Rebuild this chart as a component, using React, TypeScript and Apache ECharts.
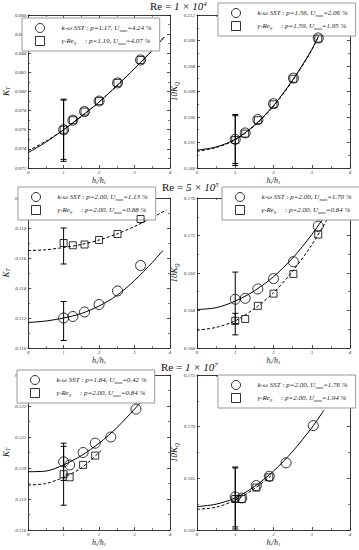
import React, { useEffect, useRef } from "react";
import * as echarts from "echarts";

const FONT = "Liberation Serif";

// refinement ratio positions h_i/h_1
const xRefTop = [1, 1.26, 1.59, 2, 2.52, 3.17];
const xRefBottom = [1, 1.17, 1.55, 1.89, 2.33, 3.04];
const xRefBottomGamma = [1, 1.17, 1.55, 1.89];

// Re labels
const reMantissa = ["1", "5", "1"];
const reExponent = ["4", "5", "7"];

// legend numbers
const kwP = ["1.17", "1.56", "2.00", "2.00", "1.84", "2.00"];
const kwU = ["4.24", "2.06", "1.13", "1.70", "0.42", "1.76"];
const grP = ["1.19", "1.59", "2.00", "2.00", "2.00", "2.00"];
const grU = ["4.07", "1.95", "0.88", "0.84", "0.84", "1.94"];

// panel 1: K_T, Re=1e4
const p1Kw = [0.076, 0.077, 0.0779, 0.079, 0.0809, 0.0833];
const p1Gr = [0.076, 0.077, 0.0779, 0.079, 0.0809, 0.0833];
const p1CurveX = [0, 0.5, 1, 1.5, 2, 2.5, 3, 3.5, 3.84];
const p1KwCurve = [0.0736, 0.0747, 0.076, 0.0774, 0.0789, 0.0806, 0.0824, 0.0843, 0.0857];
const p1GrCurve = [0.0738, 0.0748, 0.076, 0.0774, 0.0789, 0.0806, 0.0824, 0.0843, 0.0857];
const p1KwErr = [0.0727, 0.0792];
const p1GrErr = [0.0729, 0.0791];

// panel 2: 10K_Q, Re=1e4
const p2Kw = [0.1925, 0.1935, 0.1956, 0.1981, 0.2021, 0.2084];
const p2Gr = [0.1924, 0.1934, 0.1955, 0.198, 0.202, 0.2083];
const p2CurveX = [0, 0.5, 1, 1.5, 2, 2.5, 3, 3.44];
const p2KwCurve = [0.1908, 0.1913, 0.1925, 0.1947, 0.1978, 0.2018, 0.2066, 0.212];
const p2GrCurve = [0.1906, 0.1912, 0.1924, 0.1946, 0.1977, 0.2017, 0.2065, 0.212];
const p2KwErr = [0.1884, 0.1964];
const p2GrErr = [0.1887, 0.1962];

// panel 3: K_T, Re=5e5
const p3Kw = [0.112, 0.1121, 0.1124, 0.1129, 0.1138, 0.1155];
const p3Gr = [0.117, 0.11685, 0.1169, 0.1172, 0.1176, 0.1186];
const p3KwCurveX = [0, 0.5, 1, 1.5, 2, 2.5, 3, 3.5, 3.8];
const p3KwCurve = [0.1117, 0.1118, 0.112, 0.1123, 0.1128, 0.1135, 0.1145, 0.1157, 0.1165];
const p3GrCurveX = [0, 0.5, 1, 1.5, 2, 2.5, 3, 3.5, 3.9];
const p3GrCurve = [0.1165, 0.11655, 0.1167, 0.1169, 0.1172, 0.1176, 0.1181, 0.1187, 0.1192];
const p3KwErr = [0.1105, 0.1131];
const p3GrErr = [0.1156, 0.118];

// panel 4: 10K_Q, Re=5e5
const p4Kw = [0.1652, 0.1653, 0.1663, 0.1674, 0.1692, 0.173];
const p4Gr = [0.1629, 0.1631, 0.1645, 0.1658, 0.1679, 0.1721];
const p4KwCurveX = [0, 0.5, 1, 1.5, 2, 2.5, 3, 3.65];
const p4KwCurve = [0.1641, 0.1643, 0.165, 0.1661, 0.1676, 0.1696, 0.1721, 0.1759];
const p4GrCurveX = [0, 0.5, 1, 1.5, 2, 2.5, 3, 3.75];
const p4GrCurve = [0.1619, 0.1622, 0.1629, 0.1642, 0.1659, 0.1682, 0.171, 0.1761];
const p4KwErr = [0.1626, 0.1681];
const p4GrErr = [0.1614, 0.1637];

// panel 5: K_T, Re=1e7
const p5Kw = [0.1202, 0.1201, 0.1205, 0.1208, 0.121, 0.1219];
const p5Gr = [0.1198, 0.1197, 0.1201, 0.1204];
const p5KwCurveX = [0, 0.5, 1, 1.5, 2, 2.5, 3, 3.39];
const p5KwCurve = [0.11988, 0.1199, 0.1201, 0.1204, 0.1208, 0.1213, 0.1219, 0.1224];
const p5GrCurveX = [0, 0.5, 1, 1.5, 2.09];
const p5GrCurve = [0.11945, 0.1195, 0.1197, 0.12, 0.1206];
const p5KwErr = [0.1196, 0.1207];
const p5GrErr = [0.1188, 0.1208];

// panel 6: 10K_Q, Re=1e7
const p6Kw = [0.1632, 0.1631, 0.1643, 0.1652, 0.1665, 0.1701];
const p6Gr = [0.163, 0.163, 0.1641, 0.1651];
const p6KwCurveX = [0, 0.5, 1, 1.5, 2, 2.5, 3, 3.32];
const p6KwCurve = [0.16226, 0.1625, 0.1631, 0.1642, 0.1657, 0.1676, 0.1699, 0.1716];
const p6GrCurveX = [0, 0.5, 1, 1.5, 1.95];
const p6GrCurve = [0.162, 0.1622, 0.1629, 0.164, 0.1653];
const p6KwErr = [0.1603, 0.166];
const p6GrErr = [0.1601, 0.1661];

// y axis ranges
const yMins = [0.072, 0.188, 0.11, 0.16, 0.118, 0.16];
const yMaxs = [0.088, 0.212, 0.12, 0.176, 0.123, 0.175];
const yIntervals = [0.002, 0.004, 0.002, 0.004, 0.001, 0.005];

const panels = [
  { kwX: xRefTop, kw: p1Kw, grX: xRefTop, gr: p1Gr, kwCX: p1CurveX, kwC: p1KwCurve, grCX: p1CurveX, grC: p1GrCurve, kwE: p1KwErr, grE: p1GrErr },
  { kwX: xRefTop, kw: p2Kw, grX: xRefTop, gr: p2Gr, kwCX: p2CurveX, kwC: p2KwCurve, grCX: p2CurveX, grC: p2GrCurve, kwE: p2KwErr, grE: p2GrErr },
  { kwX: xRefTop, kw: p3Kw, grX: xRefTop, gr: p3Gr, kwCX: p3KwCurveX, kwC: p3KwCurve, grCX: p3GrCurveX, grC: p3GrCurve, kwE: p3KwErr, grE: p3GrErr },
  { kwX: xRefTop, kw: p4Kw, grX: xRefTop, gr: p4Gr, kwCX: p4KwCurveX, kwC: p4KwCurve, grCX: p4GrCurveX, grC: p4GrCurve, kwE: p4KwErr, grE: p4GrErr },
  { kwX: xRefBottom, kw: p5Kw, grX: xRefBottomGamma, gr: p5Gr, kwCX: p5KwCurveX, kwC: p5KwCurve, grCX: p5GrCurveX, grC: p5GrCurve, kwE: p5KwErr, grE: p5GrErr },
  { kwX: xRefBottom, kw: p6Kw, grX: xRefBottomGamma, gr: p6Gr, kwCX: p6KwCurveX, kwC: p6KwCurve, grCX: p6GrCurveX, grC: p6GrCurve, kwE: p6KwErr, grE: p6GrErr },
];

// layout
const colLeft = [17, 197];
const plotWidth = 153;
const rowTop = [15, 198, 375];
const rowHeight = [153, 150, 155];
const legendPos = [
  { left: 22, top: 18 },
  { left: 218, top: 3 },
  { left: 18, top: 187 },
  { left: 222, top: 187 },
  { left: 17, top: 370 },
  { left: 218, top: 375 },
];
const titleTops = [0, 181, 361];
const titleLefts = [150, 162, 161];

const italic = { fontFamily: FONT, fontStyle: "italic" as const, fontWeight: "normal" as const };
const TXT = "#222";

export default function App() {
  const ref = useRef<HTMLDivElement>(null);
  useEffect(() => {
    document.body.style.margin = "0";
    if (!ref.current) return;
    const chart = echarts.init(ref.current, undefined, { renderer: "svg" });

    const grids: any[] = [];
    const xAxes: any[] = [];
    const yAxes: any[] = [];
    const series: any[] = [];
    const legends: any[] = [];
    const titles: any[] = [];

    panels.forEach((p, i) => {
      const row = Math.floor(i / 2);
      const col = i % 2;
      grids.push({ left: colLeft[col], top: rowTop[row], width: plotWidth, height: rowHeight[row] });
      const tick = { show: true, inside: true, length: 3, lineStyle: { color: "#222", width: 0.8 } };
      const minor = { show: true, splitNumber: 2, length: 2, lineStyle: { color: "#222", width: 0.6 } };
      const line = { show: true, onZero: false, lineStyle: { color: "#222", width: 0.9 } };
      xAxes.push({
        gridIndex: i, type: "value", min: 0, max: 4, interval: 1, position: "bottom",
        axisLine: line, axisTick: tick, minorTick: minor, splitLine: { show: false },
        axisLabel: { ...italic, fontSize: 5, color: "#333", margin: 2 },
        name: "{i|h}{s|i}{i|/h}{s|1}", nameLocation: "middle", nameGap: 7,
        nameTextStyle: {
          color: TXT,
          rich: {
            i: { ...italic, fontSize: 8, color: TXT, lineHeight: 10 },
            s: { ...italic, fontSize: 5, color: TXT, verticalAlign: "bottom", lineHeight: 6 },
          },
        },
      });
      xAxes.push({
        gridIndex: i, type: "value", min: 0, max: 4, interval: 1, position: "top",
        axisLine: line, axisTick: tick, minorTick: minor, splitLine: { show: false },
        axisLabel: { show: false },
      });
      const yName = col === 0 ? "{i|K}{s|T}" : "{i|10K}{s|Q}";
      yAxes.push({
        gridIndex: i, type: "value", min: yMins[i], max: yMaxs[i], interval: yIntervals[i], position: "left",
        axisLine: line, axisTick: tick, minorTick: minor, splitLine: { show: false },
        axisLabel: { ...italic, fontSize: 5, color: "#333", margin: 2, formatter: (v: number) => v.toFixed(3) },
        name: yName, nameLocation: "middle", nameGap: 10,
        nameTextStyle: {
          color: TXT,
          rich: {
            i: { ...italic, fontSize: 9, color: TXT, lineHeight: 11 },
            s: { ...italic, fontSize: 5.5, color: TXT, verticalAlign: "bottom", lineHeight: 6 },
          },
        },
      });
      yAxes.push({
        gridIndex: i, type: "value", min: yMins[i], max: yMaxs[i], interval: yIntervals[i], position: "right",
        axisLine: line, axisTick: tick, minorTick: minor, splitLine: { show: false },
        axisLabel: { show: false },
      });
      const xi = 2 * i;
      const yi = 2 * i;
      const kwName = `k-ω SST #${i}`;
      const grName = `γ-Reθ #${i}`;
      series.push({
        type: "line", xAxisIndex: xi, yAxisIndex: yi, silent: true, symbol: "none",
        smooth: 0.3,
        lineStyle: { color: "#000", width: 1 },
        data: p.kwCX.map((x, j) => [x, p.kwC[j]]), z: 2,
      });
      series.push({
        type: "line", xAxisIndex: xi, yAxisIndex: yi, silent: true, symbol: "none",
        smooth: 0.3,
        lineStyle: { color: "#000", width: 1, type: [3, 2] },
        data: p.grCX.map((x, j) => [x, p.grC[j]]), z: 2,
      });
      [p.kwE, p.grE].forEach((e) => {
        series.push({
          type: "line", xAxisIndex: xi, yAxisIndex: yi, silent: true,
          symbol: "rect", symbolSize: [6, 1], showSymbol: true,
          itemStyle: { color: "#000" }, lineStyle: { color: "#000", width: 1 },
          data: [[1, e[0]], [1, e[1]]], z: 3,
        });
      });
      series.push({
        name: kwName, type: "scatter", xAxisIndex: xi, yAxisIndex: yi,
        symbol: "circle", symbolSize: 10,
        itemStyle: { color: "rgba(255,255,255,0)", borderColor: "#000", borderWidth: 1 },
        data: p.kwX.map((x, j) => [x, p.kw[j]]), z: 4,
      });
      series.push({
        name: grName, type: "scatter", xAxisIndex: xi, yAxisIndex: yi,
        symbol: "rect", symbolSize: 7,
        itemStyle: { color: "rgba(255,255,255,0)", borderColor: "#000", borderWidth: 1 },
        data: p.grX.map((x, j) => [x, p.gr[j]]), z: 4,
      });
      legends.push({
        orient: "vertical", left: legendPos[i].left, top: legendPos[i].top,
        data: [{ name: kwName, icon: "circle" }, { name: grName, icon: "rect" }],
        itemWidth: 9, itemHeight: 9, itemGap: 3,
        padding: [5, 8, 5, 13],
        backgroundColor: "#fff", borderColor: "#999", borderWidth: 1,
        selectedMode: false,
        itemStyle: { color: "rgba(255,255,255,0)", borderColor: "#000", borderWidth: 1 },
        formatter: (name: string) =>
          name.startsWith("k")
            ? `{tp|k-ω SST : p=${kwP[i]}, U}{s|num}{t|=${kwU[i]} %}`
            : `{tp|γ-Re}{s|θ}{t|     : p=${grP[i]}, U}{s|num}{t|=${grU[i]} %}`,
        textStyle: {
          color: TXT,
          rich: {
            tp: { ...italic, fontSize: 7, color: TXT, lineHeight: 9, padding: [0, 0, 0, 12] },
            t: { ...italic, fontSize: 7, color: TXT, lineHeight: 9 },
            s: { ...italic, fontSize: 4.5, color: TXT, verticalAlign: "bottom", lineHeight: 5 },
          },
        },
      });
    });

    titleTops.forEach((top, r) => {
      titles.push({
        text: `{r|Re = }{i|${reMantissa[r]} × 10}{sup|${reExponent[r]}}`,
        left: titleLefts[r], top, padding: 0,
        textStyle: {
          fontWeight: "normal",
          color: "#111",
          rich: {
            r: { fontFamily: FONT, fontWeight: "normal", fontSize: 11, color: "#111", lineHeight: 12 },
            i: { ...italic, fontSize: 11, color: "#111", lineHeight: 12 },
            sup: { ...italic, fontSize: 7, color: "#111", verticalAlign: "top", lineHeight: 7 },
          },
        },
      });
    });

    chart.setOption({
      animation: false,
      backgroundColor: "#fff",
      title: titles,
      grid: grids,
      xAxis: xAxes,
      yAxis: yAxes,
      legend: legends,
      series,
    });
    return () => chart.dispose();
  }, []);
  return <div ref={ref} style={{ width: 359, height: 550 }} />;
}
